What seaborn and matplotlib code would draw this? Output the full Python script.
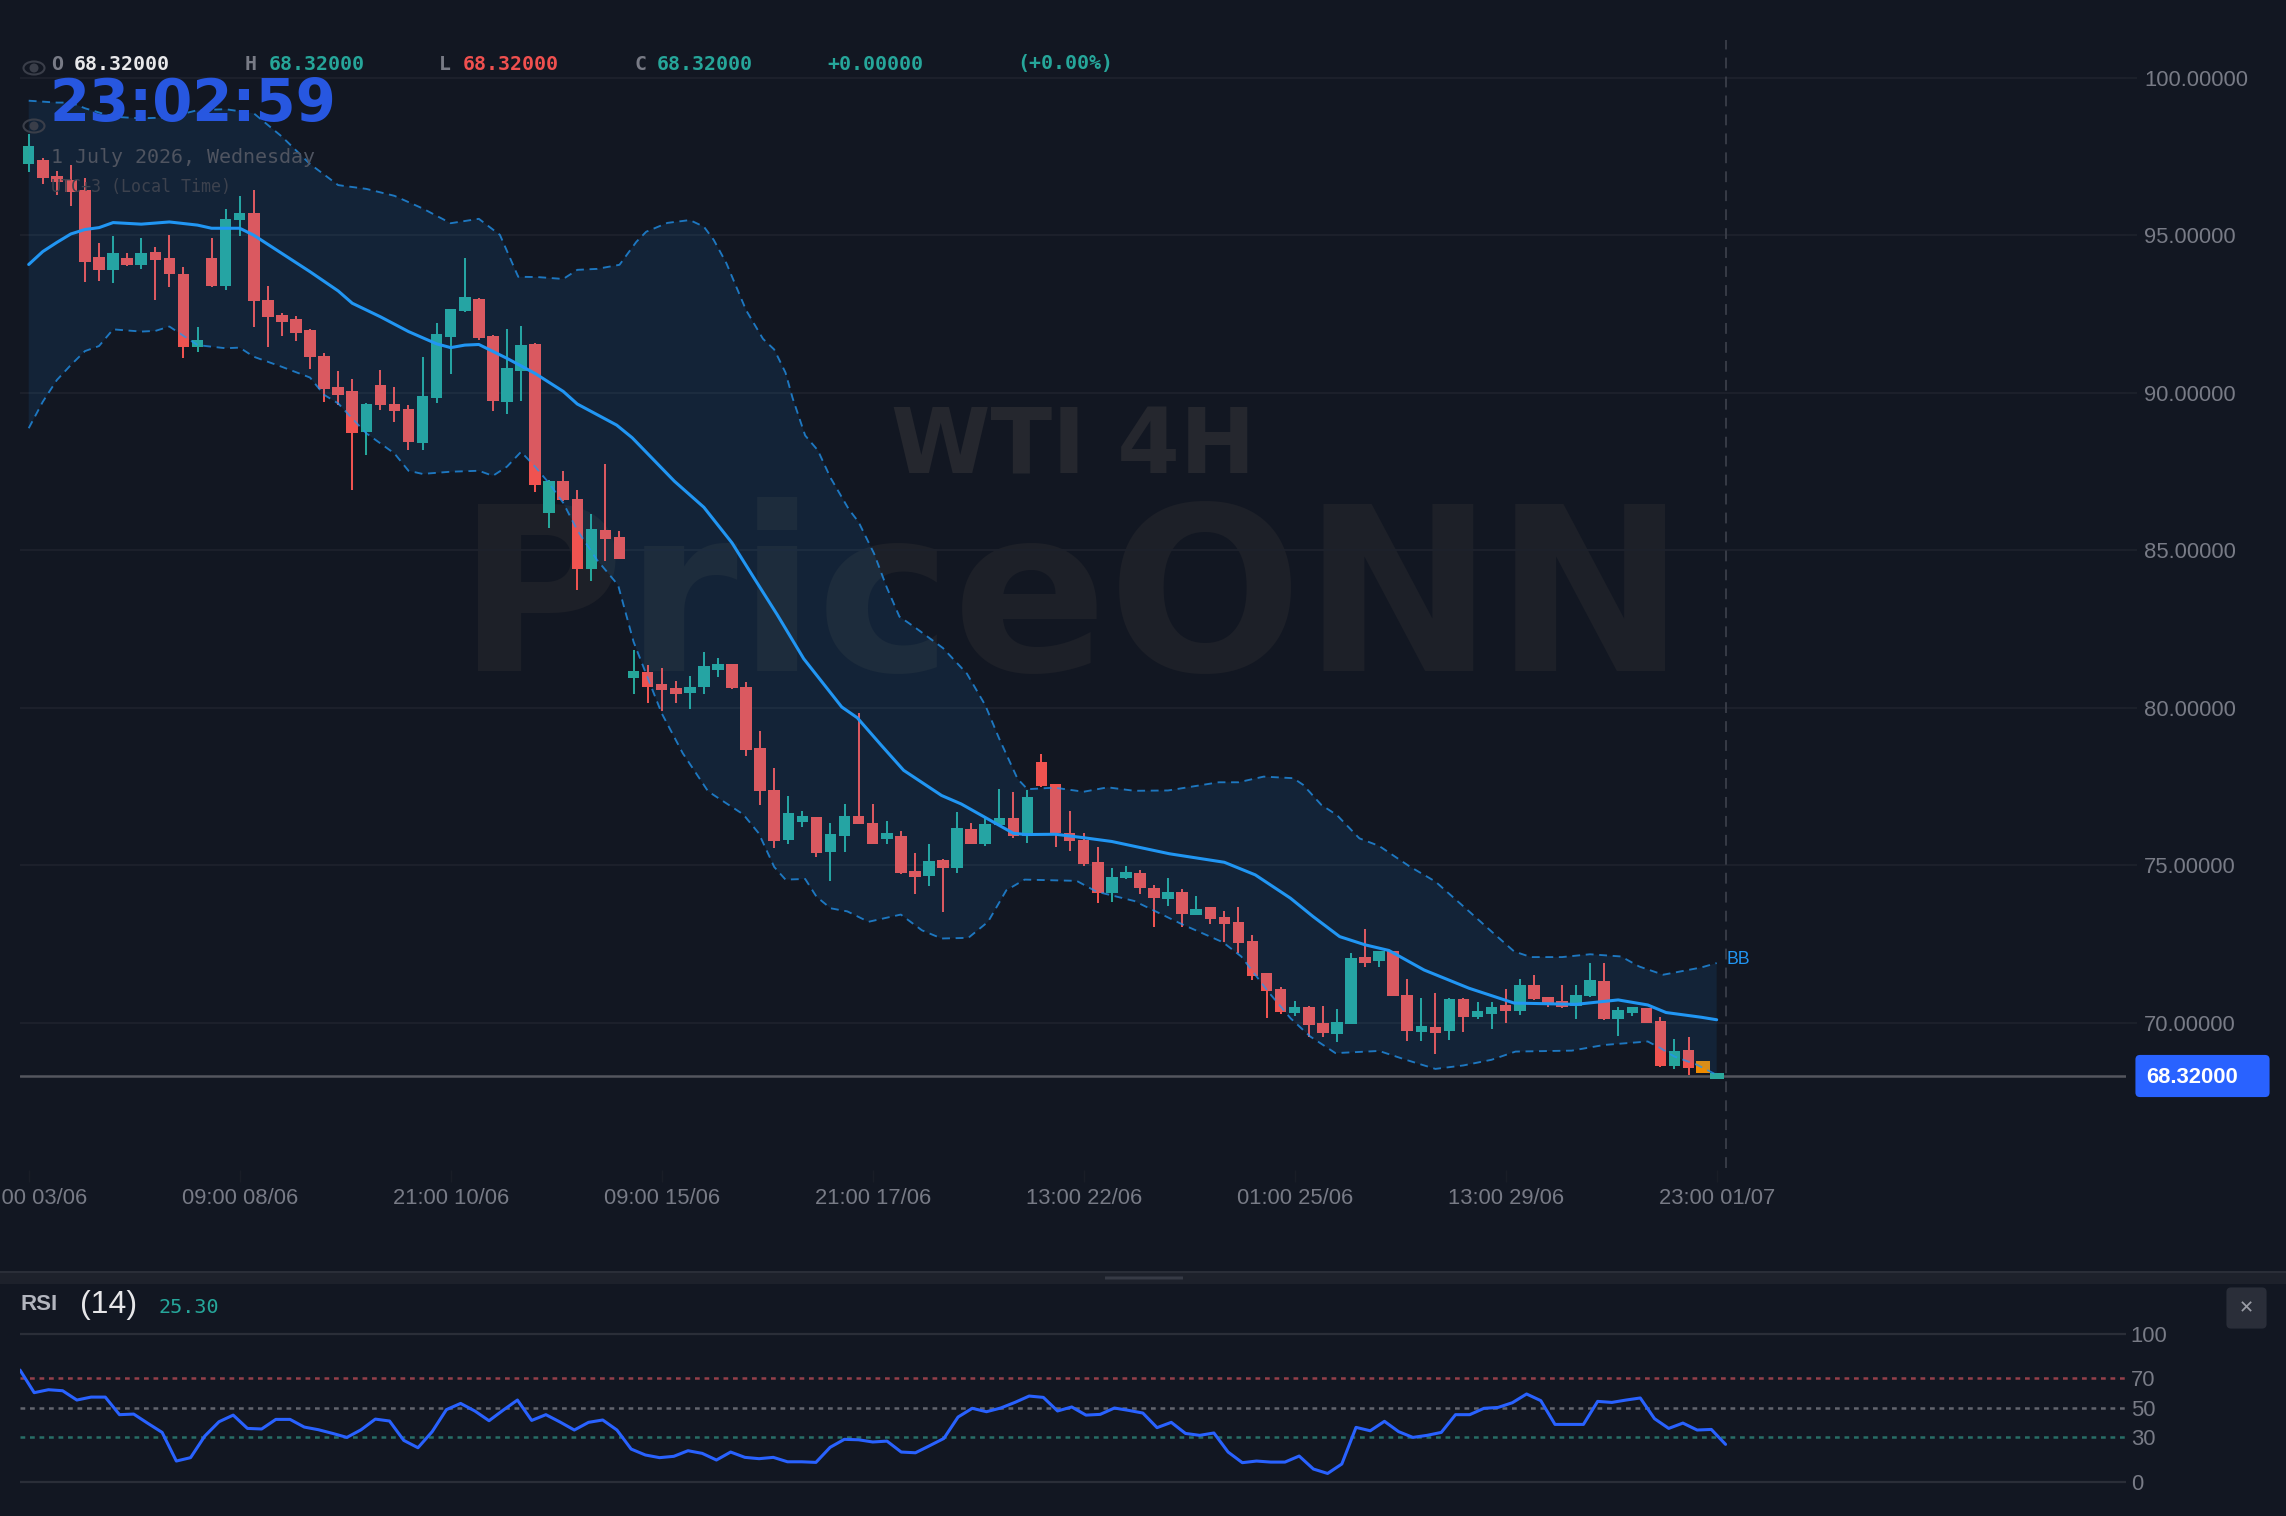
import numpy as np
import pandas as pd
import seaborn as sns
import matplotlib
matplotlib.use("Agg")
import matplotlib.pyplot as plt
from matplotlib.patches import Ellipse, FancyBboxPatch, Rectangle

# WTI 4H candles
opens = [97.27,97.39,96.88,96.75,96.45,94.30,93.91,94.28,94.05,94.46,
         94.28,93.78,91.46,94.28,93.39,95.48,95.70,92.94,92.46,92.34,
         91.98,91.18,90.18,90.04,88.76,90.23,89.64,89.47,88.40,89.82,
         91.78,92.59,92.96,91.79,89.71,90.69,91.55,86.18,87.19,86.63,
         84.40,85.63,85.43,80.94,81.14,80.74,80.59,80.48,80.64,81.19,
         81.37,80.67,78.73,77.40,75.79,76.41,76.53,75.41,75.94,76.55,
         76.35,75.85,75.94,74.79,74.64,75.15,74.92,76.14,75.67,76.26,
         76.50,75.94,78.28,77.59,76.01,75.80,75.10,74.10,74.63,74.74,
         74.27,73.94,74.14,73.46,73.66,73.35,73.19,72.58,71.59,71.06,
         70.29,70.51,69.98,69.64,69.96,72.05,71.97,72.27,70.87,69.72,
         69.82,69.74,70.74,70.19,70.28,70.53,70.38,71.20,70.80,70.67,
         70.52,70.85,71.31,70.11,70.33,70.46,70.05,68.63,69.12,68.77,68.32]
highs = [98.20,97.44,97.05,97.23,96.80,94.75,94.96,94.42,94.92,94.61,
         95.02,93.98,92.10,94.90,95.82,96.24,96.44,93.40,92.53,92.43,
         92.01,91.26,90.68,90.42,89.66,90.72,90.17,89.61,91.14,92.20,
         92.66,94.26,93.02,91.83,92.01,92.13,91.57,87.23,87.50,86.90,
         86.16,87.75,85.60,81.82,81.35,81.26,80.83,81.00,81.77,81.59,
         81.38,80.82,79.27,78.08,77.18,76.73,76.54,76.34,76.93,79.84,
         76.94,76.39,76.07,75.39,75.67,75.19,76.70,76.33,76.54,77.41,
         77.32,77.37,78.53,77.59,76.72,76.01,75.59,74.90,74.97,74.83,
         74.37,74.58,74.23,74.02,73.66,73.55,73.66,72.77,71.59,71.14,
         70.68,70.52,70.52,70.42,72.21,72.96,72.27,72.27,71.38,70.77,
         70.95,70.77,70.77,70.64,70.65,71.07,71.39,71.50,70.80,71.19,
         71.20,71.89,71.89,70.49,70.51,70.46,70.17,69.49,69.55,68.77,68.32]
lows = [97.02,96.61,96.28,95.94,93.50,93.56,93.47,94.02,93.92,92.94,
        93.35,91.09,91.30,93.35,93.26,94.97,92.10,91.45,91.80,91.65,
        90.76,89.70,89.62,86.91,88.03,89.44,89.06,88.17,88.19,89.68,
        90.58,92.56,91.66,89.43,89.33,89.75,86.86,85.69,86.56,83.74,
        84.01,84.67,84.72,80.44,80.15,79.88,80.14,79.96,80.43,80.96,
        80.60,78.47,76.90,75.55,75.67,76.22,75.27,74.48,75.42,76.29,
        75.66,75.67,74.72,74.08,74.35,73.51,74.74,75.66,75.62,76.25,
        75.87,75.71,77.49,75.58,75.46,74.97,73.79,73.84,74.55,74.09,
        73.02,73.69,73.05,73.46,73.14,72.57,72.20,71.35,70.14,70.27,
        70.21,69.53,69.53,69.37,69.95,71.77,71.75,70.83,69.43,69.42,
        69.01,69.46,69.69,70.12,69.80,69.98,70.24,70.72,70.48,70.45,
        70.10,70.80,70.07,69.57,70.21,69.99,68.60,68.54,68.34,68.39,68.32]
closes = [97.84,96.81,96.70,96.38,94.16,93.89,94.44,94.05,94.45,94.20,
          93.78,91.46,91.67,93.39,95.51,95.72,92.90,92.39,92.25,91.91,
          91.14,90.13,89.92,88.73,89.64,89.61,89.43,88.42,89.88,91.85,
          92.66,93.03,91.75,89.72,90.77,91.52,87.07,87.19,86.59,84.39,
          85.67,85.36,84.73,81.15,80.67,80.55,80.44,80.67,81.33,81.38,
          80.62,78.67,77.34,75.78,76.65,76.53,75.39,75.98,76.55,76.30,
          75.67,75.99,74.75,74.64,75.14,74.92,76.19,75.67,76.29,76.51,
          75.93,77.17,77.52,76.01,75.75,75.04,74.10,74.61,74.76,74.26,
          73.95,74.16,73.46,73.59,73.30,73.14,72.52,71.49,70.99,70.33,
          70.49,69.93,69.66,70.03,72.04,71.91,72.27,70.83,69.72,69.85,
          69.72,70.76,70.19,70.34,70.51,70.37,71.19,70.76,70.59,70.52,
          70.89,71.34,70.12,70.40,70.45,69.99,68.63,69.09,68.56,68.39,68.32]

# Bollinger band outlines, read at candle positions
upper_pos = [0,2,3,4,6,8,10,12,14,16,18,20,22,24,26,28,30,32,33.5,34.8,36.2,38,39,40.4,42,43.2,43.9,45.4,47,48,48.7,49.6,
             51,52.2,53,53.8,54.3,55.2,56.1,57,58.3,59,60.1,61,61.9,63,65,66.7,68,69,70.3,71,72.9,75,76.7,78.6,81,
             84.6,86,87.8,89.9,90.6,91.9,93,94.6,96,98.2,100,102.4,104,105.6,106.8,109,111,113.2,114.5,116.2,118.9,120]
upper_band = [99.27,99.21,99.21,99.03,98.76,98.71,98.74,98.97,99.00,98.87,98.13,97.26,96.59,96.47,96.25,95.85,95.38,95.52,95.01,93.68,93.67,93.61,93.90,93.93,94.06,94.79,95.11,95.39,95.48,95.27,94.85,94.11,
              92.62,91.71,91.37,90.64,89.84,88.64,88.17,87.30,86.30,85.89,84.89,83.82,82.89,82.55,81.89,81.08,80.08,79.01,77.74,77.41,77.46,77.33,77.47,77.36,77.37,
              77.63,77.63,77.81,77.76,77.55,76.91,76.59,75.85,75.61,74.95,74.48,73.53,72.89,72.26,72.08,72.08,72.17,72.10,71.78,71.52,71.75,71.89]
lower_pos = [0,1,2,3,4,5,6,8,9,10,12,14,15,16,18,20,21,22,23,24,25,26,27,28,30,32,33,34,35,36,37,38,39,40.4,41.9,43,44,45,46.5,48.3,50.8,51.9,
             53,53.8,55.2,56,57,58.2,59.7,62,63.5,64.9,66.8,68.2,69.5,70.8,74.5,75.9,78.6,82,84.9,86.2,88.1,89.7,91.1,92.9,96,97.9,100,102,104,105.7,109.7,112,115.1,116,117,118.6,120]
lower_band = [88.87,89.71,90.40,90.88,91.32,91.48,92.01,91.94,91.96,92.10,91.51,91.41,91.43,91.14,90.82,90.48,89.93,89.66,89.18,88.71,88.39,88.07,87.52,87.42,87.49,87.52,87.36,87.65,88.12,87.65,87.12,86.50,85.63,84.69,83.89,82.09,80.95,79.82,78.55,77.34,76.61,76.01,
              74.94,74.54,74.56,74.00,73.63,73.53,73.20,73.43,72.93,72.67,72.69,73.20,74.20,74.54,74.50,74.16,73.86,73.12,72.55,72.10,70.99,70.14,69.56,69.03,69.10,68.82,68.53,68.64,68.82,69.08,69.11,69.29,69.40,69.19,68.92,68.66,68.34]
middle_pos = [0,1,2,3,4,5,6,8,10,12,13,15,16,18,20,22,23,25,27,29,30,31,32,34,36,38,39,41.8,42.9,45.9,48,50,51.6,53.2,55.1,57.8,58.9,60.6,62.2,64.9,66.3,70,70.9,73,75,
              77,81.1,85,87.2,89.7,91.3,93.2,95,96.7,99.2,102.4,105.6,110,113,115.1,116.4,118.9,120]
middle_band = [94.07,94.48,94.77,95.04,95.18,95.24,95.40,95.35,95.42,95.32,95.22,95.22,95.00,94.42,93.84,93.23,92.84,92.41,91.94,91.55,91.43,91.51,91.53,91.09,90.61,90.04,89.64,88.97,88.57,87.19,86.36,85.23,84.09,82.96,81.55,80.02,79.68,78.81,78.01,77.21,76.94,76.01,75.97,75.98,75.87,
               75.75,75.36,75.09,74.69,73.95,73.37,72.73,72.47,72.29,71.67,71.09,70.62,70.58,70.72,70.56,70.32,70.17,70.09]

# RSI(14)
rsi_values = [75.6,60.3,62.3,61.6,55.3,57.3,57.3,45.4,45.8,39.5,33.4,14.0,16.3,30.9,40.6,45.1,36.1,35.7,42.2,42.2,
              37.0,35.2,32.7,30.0,35.2,42.4,41.1,28.0,23.0,33.9,48.8,53.0,47.9,41.3,48.5,55.3,41.5,45.4,40.4,35.0,
              40.2,41.8,35.0,22.1,18.1,16.3,17.2,21.0,19.2,14.7,20.1,16.5,15.6,16.5,13.5,13.5,13.1,23.3,28.7,28.4,
              26.9,27.5,20.1,19.6,24.4,29.3,43.8,49.7,47.4,49.9,53.7,58.0,57.1,47.9,50.6,45.1,45.6,49.9,48.3,46.5,
              36.6,40.2,32.7,31.4,33.0,20.1,12.9,14.0,13.3,13.3,17.4,8.6,5.6,12.0,36.8,34.5,40.9,33.9,30.0,31.4,
              33.4,45.4,45.4,49.7,50.3,53.5,59.4,54.9,38.8,38.8,38.8,54.4,53.7,55.3,56.7,42.7,36.1,39.7,35.0,35.4,25.30]

price_ticks = [100, 95, 90, 85, 80, 75, 70]
rsi_ticks = [100, 70, 50, 30, 0]
time_tick_labels = ["21:00 03/06", "09:00 08/06", "21:00 10/06", "09:00 15/06", "21:00 17/06",
                    "13:00 22/06", "01:00 25/06", "13:00 29/06", "23:00 01/07"]
last_price = 68.32

BG = "#121722"
GRID = "#1e222c"
TICK = "#787b86"
UP = "#26a69a"
DOWN = "#f05350"
BAND = "#2196f3"
MONO = "DejaVu Sans Mono"
SANS = "Liberation Sans"

W, H = 2286, 1516
sns.set_theme(style="dark", rc={"figure.facecolor": BG, "axes.facecolor": BG, "savefig.facecolor": BG,
                                "axes.edgecolor": BG, "text.color": TICK})
fig = plt.figure(figsize=(W / 100, H / 100), dpi=100)


def px_box(left, top, right, bottom):
    return [left / W, 1 - bottom / H, (right - left) / W, (bottom - top) / H]


def put(x, y, s, **kw):
    kw.setdefault("va", "center")
    return fig.text(x / W, 1 - y / H, s, **kw)


ax = fig.add_axes(px_box(20, 0, 2126, 1170))
rsi_ax = fig.add_axes(px_box(20, 1290, 2126, 1516))

# Watermarks sit below everything in the price pane
ax.text(1072 / W, 1 - 671 / H, "PriceONN", transform=fig.transFigure, ha="center", va="baseline",
        family="DejaVu Sans", weight="bold", fontsize=165, color="#1d2028", zorder=0.2, clip_on=False)
ax.text(1073 / W, 1 - 474 / H, "WTI 4H", transform=fig.transFigure, ha="center", va="baseline",
        family="DejaVu Sans", weight="bold", fontsize=65, color="#25272e", zorder=0.2, clip_on=False)

# Candles
idx = np.arange(len(opens))
o, h, l, c = map(np.array, (opens, highs, lows, closes))
colors = [UP if cl >= op else DOWN for op, cl in zip(o, c)]
colors[119] = "#f08c00"
colors[120] = "#2ba89c"
widths = np.full(len(idx), 0.82)
widths[119:] = 1.0
ax.vlines(idx, l, h, colors=colors, linewidth=1.45, zorder=2)
body_low = np.minimum(o, c)
body_h = np.abs(c - o)
min_body = 0.19
flat = body_h < min_body
ax.bar(idx, np.where(flat, min_body, body_h), bottom=np.where(flat, (o + c) / 2 - min_body / 2, body_low),
       width=widths, color=colors, linewidth=0, zorder=2.1)

# Bollinger bands: translucent fill lies over the candles
ax.fill(np.r_[upper_pos, lower_pos[::-1]], np.r_[upper_band, lower_band[::-1]],
        color=BAND, alpha=0.1, linewidth=0, zorder=3)
band_dash = (0, (4.2, 3.0))
sns.lineplot(data=pd.DataFrame({"x": upper_pos, "y": upper_band}), x="x", y="y", ax=ax, color=BAND, alpha=0.75,
             linewidth=1.35, linestyle=band_dash, estimator=None, sort=False, zorder=4)
sns.lineplot(data=pd.DataFrame({"x": lower_pos, "y": lower_band}), x="x", y="y", ax=ax, color=BAND, alpha=0.75,
             linewidth=1.35, linestyle=band_dash, estimator=None, sort=False, zorder=4)
sns.lineplot(data=pd.DataFrame({"x": middle_pos, "y": middle_band}), x="x", y="y", ax=ax, color=BAND,
             linewidth=2.2, estimator=None, sort=False, zorder=4.1)

# Price pane scale: candle 0 sits 8.7 px inside the left edge, 14.065 px per candle
ax.set_xlim(-0.619, 149.1)
ax.set_ylim(65.32, 102.467)
ax.set_xlabel("")
ax.set_ylabel("")
ax.set_yticks(price_ticks)
ax.set_yticklabels([f"{v:.5f}" for v in price_ticks], family=SANS, fontsize=15.8, color=TICK)
ax.set_xticks(range(0, 121, 15))
ax.set_xticklabels(time_tick_labels, family=SANS, fontsize=15.8, color=TICK)
ax.yaxis.tick_right()
ax.tick_params(axis="y", length=8, width=1.2, color=GRID, pad=5, right=True, left=False)
ax.tick_params(axis="x", length=8.5, width=1, color="#191d27", pad=4.5, bottom=True)
ax.set_axisbelow(True)
ax.grid(axis="y", color=GRID, linewidth=1.3)
ax.grid(axis="x", visible=False)
ax.axhline(last_price, color="#54565e", linewidth=1.8, zorder=1.5)
ax.axvline(120 + (1726 - 1716.5) / 14.065, ymin=(1170 - 1168) / 1170, ymax=(1170 - 40) / 1170,
           color="#3a3e49", linewidth=1.3, linestyle=(0, (6, 4.5)), zorder=5)
for side in ax.spines.values():
    side.set_visible(False)

# RSI pane
rsi_df = pd.DataFrame({"bar": np.arange(len(rsi_values)), "rsi": rsi_values})
for level, col in zip([70, 50, 30], ["#94404a", "#62656e", "#286e66"]):
    rsi_ax.axhline(level, color=col, linewidth=1.8, linestyle=(0, (1.9, 1.9)), zorder=1)
for level in (100, 0):
    rsi_ax.axhline(level, color="#2a2e38", linewidth=1.6, zorder=1)
sns.lineplot(data=rsi_df, x="bar", y="rsi", ax=rsi_ax, color="#2962ff", linewidth=2.2,
             estimator=None, sort=False, zorder=3)
rsi_ax.set_xlim(0, (2126 - 20) / 14.213)
rsi_ax.set_ylim(-23.2, 129.8)
rsi_ax.set_xlabel("")
rsi_ax.set_ylabel("")
rsi_ax.set_xticks([])
rsi_ax.set_yticks(rsi_ticks)
rsi_ax.set_yticklabels([str(v) for v in rsi_ticks], family=SANS, fontsize=15.8, color=TICK)
rsi_ax.yaxis.tick_right()
rsi_ax.tick_params(axis="y", length=0, pad=3.5, right=False, left=False)
rsi_ax.grid(False)
for side in rsi_ax.spines.values():
    side.set_visible(False)

# Pane divider
fig.add_artist(Rectangle((0, 1 - 1284 / H), 1, 13 / H, transform=fig.transFigure, color="#1d212b", linewidth=0))
fig.add_artist(Rectangle((0, 1 - 1272.5 / H), 1, 2 / H, transform=fig.transFigure, color="#2a2e38", linewidth=0))
fig.add_artist(FancyBboxPatch((1105 / W, 1 - 1279.5 / H), 78 / W, 3 / H, boxstyle="round,pad=0",
                              transform=fig.transFigure, color="#363a45", linewidth=0))

# OHLC header
header = [(51, "O", TICK), (74, "68.32000", "#e8e8ea"), (245, "H", TICK), (269, "68.32000", UP),
          (439, "L", TICK), (463, "68.32000", "#f0504f"), (635, "C", TICK), (657, "68.32000", UP),
          (827, "+0.00000", UP), (1017, "(+0.00%)", UP)]
for x, s, col in header:
    put(x, 64, s, family=MONO, weight="bold", fontsize=14.3, color=col)

# Clock and date block
put(50, 104, "23:02:59", family="DejaVu Sans", weight="bold", fontsize=41.5, color="#2757e0")
put(51, 157.5, "1 July 2026, Wednesday", family=MONO, fontsize=14.4, color="#4f5460")
put(51, 186.5, "UTC+3 (Local Time)", family=MONO, fontsize=12, color="#3d424e")

# Visibility eye icons
for ey in (68, 126):
    cx, cy = 34 / W, 1 - ey / H
    fig.add_artist(Ellipse((cx, cy), 21 / W, 13 / H, transform=fig.transFigure, fill=False,
                           edgecolor="#3a3e49", linewidth=1.5))
    fig.add_artist(Ellipse((cx, cy), 9 / W, 9 / H, transform=fig.transFigure, color="#3a3e49", linewidth=0))

# Right-hand markers
fig.add_artist(FancyBboxPatch((2140 / W, 1 - 1092.5 / H), 125 / W, 33 / H,
                              boxstyle="round,pad=0.002,rounding_size=0.002",
                              transform=fig.transFigure, color="#2962ff", linewidth=0, mutation_aspect=W / H))
put(2146, 1077.5, f"{last_price:.5f}", family=SANS, weight="bold", fontsize=15.8, color="white")
put(1727, 959.5, "BB", family=SANS, fontsize=12.7, color=BAND)

# RSI legend and close button
put(20, 1305, "RSI", family=SANS, weight="bold", fontsize=16, color="#b2b5be")
put(80, 1305, "(14)", family=SANS, fontsize=23, color="#e6e6e8")
put(158, 1307.5, "25.30", family=MONO, fontsize=14.5, color=UP)
fig.add_artist(FancyBboxPatch((2231 / W, 1 - 1324 / H), 31 / W, 32 / H,
                              boxstyle="round,pad=0.002,rounding_size=0.002",
                              transform=fig.transFigure, color="#2a2e39", linewidth=0, mutation_aspect=W / H))
put(2246.5, 1308, "\u2715", family="DejaVu Sans", fontsize=13, color="#9a9da6", ha="center")

fig.savefig("out.png", dpi=100, facecolor=BG)
